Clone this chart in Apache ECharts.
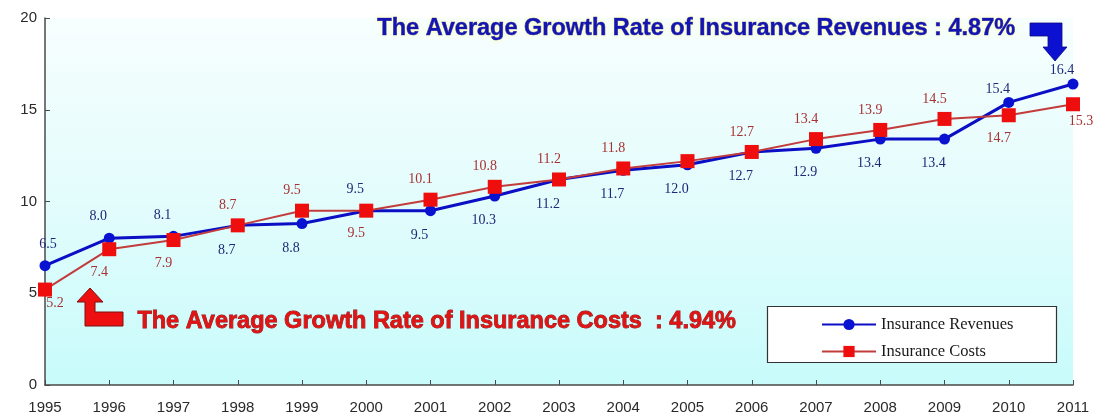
<!DOCTYPE html>
<html>
<head>
<meta charset="utf-8">
<script src="https://cdn.jsdelivr.net/npm/echarts@6/dist/echarts.min.js"></script>
<style>
  html, body { margin: 0; padding: 0; background: #ffffff; }
  #chart { width: 1105px; height: 419px; }
</style>
</head>
<body>
<div id="chart"></div>
<script>
// Years on the horizontal axis
const years = ['1995','1996','1997','1998','1999','2000','2001','2002','2003',
               '2004','2005','2006','2007','2008','2009','2010','2011'];

// Insurance revenues and costs per year
const revenues = [6.5, 8.0, 8.1, 8.7, 8.8, 9.5, 9.5, 10.3, 11.2, 11.7, 12.0, 12.7, 12.9, 13.4, 13.4, 15.4, 16.4];
const costs    = [5.2, 7.4, 7.9, 8.7, 9.5, 9.5, 10.1, 10.8, 11.2, 11.8, 12.2, 12.7, 13.4, 13.9, 14.5, 14.7, 15.3];

// Which value labels sit above the revenue line (the rest sit below)
const revenueLabelsAbove = ['1995', '1996', '1997', '2000', '2010', '2011'];
// Which value labels sit below the cost line (the rest sit above); 2005 cost carries no label
const costLabelsBelow = ['1995', '1996', '1997', '2000', '2010', '2011'];
const costLabelsHidden = ['2005'];

const yTicks = [0, 5, 10, 15, 20];

const lastIdx = years.length - 1;

const revenueData = revenues.map((v, i) => {
  const above = revenueLabelsAbove.includes(years[i]);
  let dist = above ? 9 : 12;
  if (i >= lastIdx - 1) dist = 1;          // tail labels hug the line
  return {
    value: v,
    label: {
      position: above ? 'top' : 'bottom',
      distance: dist,
      offset: [i === 0 ? 3 : -11, 0]
    }
  };
});

const costData = costs.map((v, i) => {
  const below = costLabelsBelow.includes(years[i]);
  let dx = -10;
  let dist = below ? 9 : 6;
  if (i === 0) { dx = 10; dist = 0; }
  if (i === lastIdx) { dx = 8; dist = 3; }
  return {
    value: v,
    label: {
      show: !costLabelsHidden.includes(years[i]),
      position: below ? 'bottom' : 'top',
      distance: dist,
      offset: [dx, 0]
    }
  };
});

const serif = 'Liberation Serif, Times New Roman, serif';
const sans = 'Liberation Sans, Arial, sans-serif';

const chart = echarts.init(document.getElementById('chart'), null, { renderer: 'canvas' });

chart.setOption({
  animation: false,
  backgroundColor: '#ffffff',
  grid: {
    left: 45, right: 32, top: 18, bottom: 34,
    show: true,
    borderWidth: 0,
    backgroundColor: new echarts.graphic.LinearGradient(0, 0, 0, 1, [
      { offset: 0, color: '#f7fefe' },
      { offset: 0.5, color: '#e3fcfc' },
      { offset: 1, color: '#c8fbfb' }
    ])
  },
  xAxis: {
    type: 'category',
    data: years,
    boundaryGap: false,
    axisLine: { lineStyle: { color: '#4a4a4a', width: 1.5 } },
    axisTick: { inside: true, length: 5, alignWithLabel: true, lineStyle: { color: '#4a4a4a' } },
    axisLabel: { color: '#2a2a2a', fontSize: 15, fontFamily: sans, margin: 15 },
    splitLine: { show: false }
  },
  yAxis: {
    type: 'value',
    min: yTicks[0],
    max: yTicks[yTicks.length - 1],
    interval: yTicks[1] - yTicks[0],
    axisLine: { show: true, lineStyle: { color: '#4a4a4a', width: 1.5 } },
    axisTick: { show: true, inside: true, length: 5, lineStyle: { color: '#4a4a4a' } },
    axisLabel: { color: '#2a2a2a', fontSize: 15, fontFamily: sans, margin: 8 },
    splitLine: { show: false }
  },
  legend: {
    orient: 'vertical',
    left: 816,
    top: 311,
    itemWidth: 54,
    itemHeight: 14,
    itemGap: 10,
    z: 6,
    textStyle: { color: '#1a1a1a', fontSize: 16.5, fontFamily: serif },
    data: ['Insurance Revenues', 'Insurance Costs']
  },
  series: [
    {
      name: 'Insurance Costs',
      type: 'line',
      data: costData,
      z: 3,
      symbol: 'rect',
      symbolSize: 14,
      itemStyle: { color: '#ee0e0e' },
      lineStyle: { color: '#c23c3c', width: 2 },
      label: {
        show: true,
        color: '#a83232',
        fontSize: 14,
        fontFamily: serif,
        formatter: p => p.value.toFixed(1)
      }
    },
    {
      name: 'Insurance Revenues',
      type: 'line',
      data: revenueData,
      z: 2,
      symbol: 'circle',
      symbolSize: 11,
      itemStyle: { color: '#0a12d2' },
      lineStyle: { color: '#0a0ec4', width: 3 },
      label: {
        show: true,
        color: '#1c2878',
        fontSize: 14,
        fontFamily: serif,
        formatter: p => p.value.toFixed(1)
      }
    }
  ],
  graphic: [
    // legend frame
    {
      type: 'rect',
      z: 5,
      shape: { x: 767.5, y: 306.5, width: 289, height: 56 },
      style: { fill: '#ffffff', stroke: '#333333', lineWidth: 1.2 }
    },
    // headline for revenues
    {
      type: 'text',
      z: 6,
      left: 377,
      top: 16,
      style: {
        text: 'The Average Growth Rate of Insurance Revenues : 4.87%',
        fill: '#1414b0',
        stroke: '#1414b0',
        lineWidth: 0.7,
        font: 'bold 23.5px "Liberation Sans", Arial, sans-serif',
        textShadowColor: 'rgba(255,255,170,0.9)',
        textShadowBlur: 4
      }
    },
    // bent arrow pointing down to the last revenue point
    {
      type: 'polygon',
      z: 6,
      shape: { points: [[1030,23],[1062,23],[1062,47],[1067,47],[1055,61],[1043,47],[1048,47],[1048,36],[1030,36]] },
      style: { fill: '#0c10d0', stroke: '#0a0a80', lineWidth: 0.8 }
    },
    // headline for costs
    {
      type: 'text',
      z: 6,
      left: 137,
      top: 309,
      style: {
        text: 'The Average Growth Rate of Insurance Costs  : 4.94%',
        fill: '#e01414',
        stroke: '#8a1010',
        lineWidth: 0.8,
        font: 'bold 23.5px "Liberation Sans", Arial, sans-serif'
      }
    },
    // bent arrow pointing up to the first cost point
    {
      type: 'polygon',
      z: 6,
      shape: { points: [[90,288],[103,302],[95,302],[95,312],[123,312],[123,326],[85,326],[85,302],[77,302]] },
      style: { fill: '#ee1010', stroke: '#7a1010', lineWidth: 1 }
    }
  ]
});
</script>
</body>
</html>
